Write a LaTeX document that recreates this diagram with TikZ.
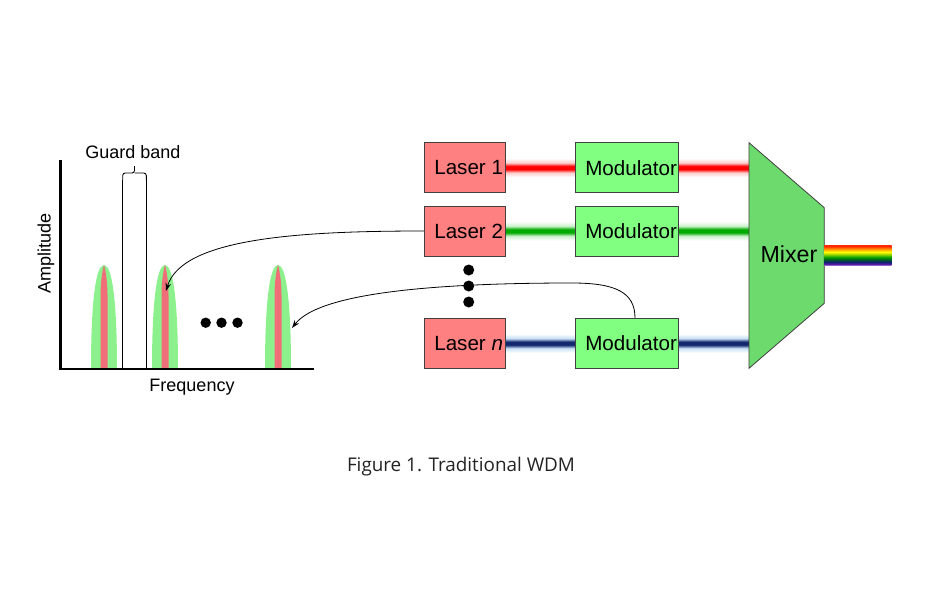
\documentclass[tikz,border=0pt]{standalone}
\usepackage{fontspec}
\setmainfont{Liberation Sans}
\newfontfamily\capfont{Open Sans}
\usetikzlibrary{arrows.meta}
\definecolor{laserfill}{RGB}{255,128,128}
\definecolor{modfill}{RGB}{128,255,128}
\definecolor{mixfill}{RGB}{108,218,108}
\definecolor{boxline}{RGB}{64,64,64}
\definecolor{peakgreen}{RGB}{140,240,140}
\definecolor{peakred}{RGB}{240,110,120}
\definecolor{beamred}{RGB}{255,0,0}
\definecolor{beamredglow}{RGB}{255,205,205}
\definecolor{beamgreen}{RGB}{0,170,0}
\definecolor{beamgreenglow}{RGB}{200,240,200}
\definecolor{beamblue}{RGB}{20,40,110}
\definecolor{beamblueglow}{RGB}{200,225,245}
\definecolor{capgray}{RGB}{35,35,35}
\definecolor{rbred}{RGB}{255,40,0}
\definecolor{rborange}{RGB}{255,150,0}
\definecolor{rbyellow}{RGB}{255,255,0}
\definecolor{rbyg}{RGB}{150,210,0}
\definecolor{rbgreen}{RGB}{0,160,0}
\definecolor{rbdgreen}{RGB}{0,90,40}
\definecolor{rbnavy}{RGB}{20,30,120}
\definecolor{rbpurple}{RGB}{90,30,170}
\definecolor{rblpurple}{RGB}{190,140,230}
\pgfdeclareverticalshading{redbeam}{100bp}{color(0bp)=(white); color(25bp)=(white); color(37bp)=(beamredglow); color(46bp)=(beamred); color(54bp)=(beamred); color(63bp)=(beamredglow); color(75bp)=(white); color(100bp)=(white)}
\pgfdeclareverticalshading{greenbeam}{100bp}{color(0bp)=(white); color(25bp)=(white); color(37bp)=(beamgreenglow); color(46bp)=(beamgreen); color(54bp)=(beamgreen); color(63bp)=(beamgreenglow); color(75bp)=(white); color(100bp)=(white)}
\pgfdeclareverticalshading{bluebeam}{100bp}{color(0bp)=(white); color(25bp)=(white); color(37bp)=(beamblueglow); color(46bp)=(beamblue); color(54bp)=(beamblue); color(63bp)=(beamblueglow); color(75bp)=(white); color(100bp)=(white)}
\pgfdeclareverticalshading{rainbow}{100bp}{color(0bp)=(rblpurple); color(25bp)=(rblpurple); color(28bp)=(rbpurple); color(33bp)=(rbnavy); color(39bp)=(rbdgreen); color(45bp)=(rbgreen); color(52bp)=(rbyg); color(58bp)=(rbyellow); color(65bp)=(rborange); color(72bp)=(rbred); color(75bp)=(rbred); color(100bp)=(rbred)}
\pgfdeclarelayer{bg}
\pgfsetlayers{bg,main}
\begin{document}
\begin{tikzpicture}[x=1pt,y=-1pt,
  lbl/.style={font=\fontsize{18}{21.6}\selectfont, inner sep=0pt},
  boxtext/.style={font=\fontsize{20.6}{24}\selectfont},
  laserbox/.style={boxtext, draw=boxline, line width=0.8pt, fill=laserfill, minimum width=81pt, minimum height=50pt, inner xsep=10pt, inner ysep=0pt},
  modbox/.style={boxtext, draw=boxline, line width=0.8pt, fill=modfill, minimum width=103.4pt, minimum height=50pt, inner xsep=10pt, inner ysep=0pt},
  sigarrow/.style={line width=0.8pt, -{Stealth[length=8pt,width=5.5pt]}},
  peakg/.style={fill=peakgreen},
  peakr/.style={fill=peakred}]
\useasboundingbox (0,0) rectangle (929,611);

% spectrum peaks
\foreach \cx in {104,165,278}{
  \fill[peakg] (\cx-13,369) .. controls (\cx-13,300) and (\cx-8,265) .. (\cx,265)
     .. controls (\cx+8,265) and (\cx+13,300) .. (\cx+13,369) -- cycle;
  \fill[peakr] (\cx-3.5,369) -- (\cx-3.5,295) .. controls (\cx-3.5,280) and (\cx-1,268) .. (\cx,265)
     .. controls (\cx+1,268) and (\cx+3.5,280) .. (\cx+3.5,295) -- (\cx+3.5,369) -- cycle;
}
\coordinate (pk2) at (166,291);
\coordinate (pk3) at (292,328);

% axes
\coordinate (ytop) at (60.7,160);
\coordinate (orig) at (60.7,369);
\coordinate (xend) at (314,369);
\draw[line width=2.6pt] (ytop) -- (orig) -- (xend);

% guard band
\coordinate (gbl) at (122.7,180);
\coordinate (gbr) at (146.3,180);
\coordinate (gbt) at (134.5,166);
\draw[line width=0.9pt] (gbl) -- (gbl |- orig);
\draw[line width=0.9pt] (gbr) -- (gbr |- orig);
\draw[line width=0.9pt, rounded corners=2.5pt] (gbl) -- (122.7,173) -- (134.5,173) -- (gbt);
\draw[line width=0.9pt, rounded corners=2.5pt] (gbr) -- (146.3,173) -- (134.5,173);
\node[lbl] (gb) at (133,152) {Guard band};
\node[lbl] (freq) at (192,387) {Frequency};
\node[lbl, rotate=90] (amp) at (46,253) {Amplitude};

% dots
\fill (205.7,322.7) circle (5.2);
\fill (221.5,322.7) circle (5.2);
\fill (237.5,322.7) circle (5.2);
\fill (468.7,270) circle (5.5);
\fill (468.7,286) circle (5.5);
\fill (468.7,302) circle (5.5);

% boxes
\node[laserbox] (l1) at (464.8,167.7) {\makebox[61pt][l]{Laser 1}};
\node[laserbox] (l2) at (464.8,231) {\makebox[61pt][l]{Laser 2}};
\node[laserbox] (ln) at (464.8,343.3) {\makebox[61pt][l]{Laser \textit{n}}};
\node[modbox] (m1) at (627,167.7) {\makebox[83.4pt][l]{Modulator}};
\node[modbox] (m2) at (627,231) {\makebox[83.4pt][l]{Modulator}};
\node[modbox] (mn) at (627,343.3) {\makebox[83.4pt][l]{Modulator}};

% mixer
\coordinate (mxa) at (749,142.7);
\coordinate (mxb) at (824.3,207.7);
\coordinate (mxc) at (824.3,303.3);
\coordinate (mxd) at (749,368.3);
\filldraw[fill=mixfill, draw=boxline, line width=0.8pt] (mxa) -- (mxb) -- (mxc) -- (mxd) -- cycle;
\node[font=\fontsize{23.2}{28}\selectfont] (mix) at (789,254) {Mixer};

% background and beams
\begin{pgfonlayer}{bg}
\fill[white] (0,0) rectangle (929,611);
\shade[shading=redbeam] ([yshift=9.5pt]l1.east) rectangle ([yshift=-9.5pt]m1.west);
\shade[shading=redbeam] ([yshift=9.5pt]m1.east) rectangle ([yshift=-9.5pt]m1.east -| mxa);
\shade[shading=greenbeam] ([yshift=9.5pt]l2.east) rectangle ([yshift=-9.5pt]m2.west);
\shade[shading=greenbeam] ([yshift=9.5pt]m2.east) rectangle ([yshift=-9.5pt]m2.east -| mxa);
\shade[shading=bluebeam] ([yshift=9.5pt]ln.east) rectangle ([yshift=-9.5pt]mn.west);
\shade[shading=bluebeam] ([yshift=9.5pt]mn.east) rectangle ([yshift=-9.5pt]mn.east -| mxa);
\end{pgfonlayer}

% output rainbow
\coordinate (rba) at (824.3,245);
\coordinate (rbb) at (891.7,265.5);
\shade[shading=rainbow] (rba) rectangle (rbb);

% arrows
\draw[sigarrow] (l2.west) .. controls (300,231) and (182,238) .. (pk2);
\draw[sigarrow] ([xshift=8pt]mn.north) .. controls (635,292) and (615,283) .. (572,283)
   .. controls (440,283) and (320,292) .. (pk3);

% caption
\node[font=\capfont, text=capgray, inner sep=0pt] (cap) at (461,467) {\resizebox{228pt}{!}{Figure 1. Traditional WDM}};
\end{tikzpicture}
\end{document}
